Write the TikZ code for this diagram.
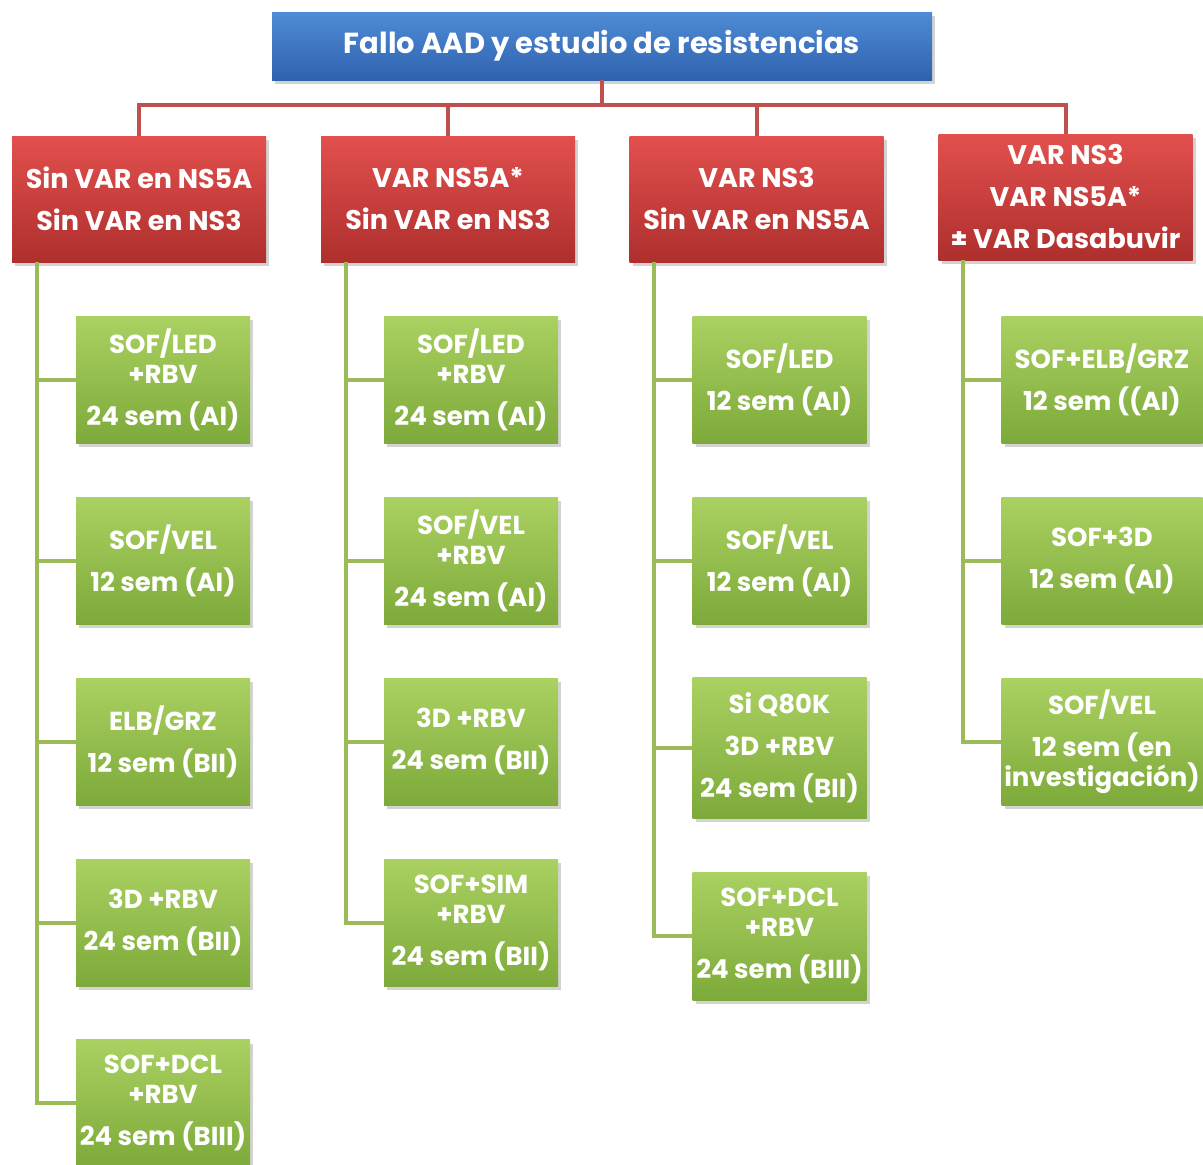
\documentclass[tikz,border=0pt]{standalone}
\usepackage{fontspec}
\setmainfont{Poppins}
\usetikzlibrary{shadows}

\definecolor{azulA}{HTML}{4F8BD6}
\definecolor{azulB}{HTML}{2F62AE}
\definecolor{rojoA}{HTML}{E2504E}
\definecolor{rojoB}{HTML}{AE2F2D}
\definecolor{verdeA}{HTML}{AAD162}
\definecolor{verdeB}{HTML}{7DAA3A}
\definecolor{linrojo}{HTML}{C0504D}
\definecolor{linverde}{HTML}{9BBB59}

\begin{document}
\begin{tikzpicture}[x=1pt, y=-1pt,
    caja/.style={text=white, align=center, inner sep=0pt,
        font=\fontsize{26}{42}\selectfont\bfseries,
        drop shadow={opacity=0.35, shadow xshift=3pt, shadow yshift=-4pt}},
    titulo/.style={caja, top color=azulA, bottom color=azulB,
        font=\fontsize{29}{42}\selectfont\bfseries,
        minimum width=660pt, minimum height=68pt},
    grupo/.style={caja, top color=rojoA, bottom color=rojoB,
        font=\fontsize{27}{42}\selectfont\bfseries,
        minimum width=254pt, minimum height=126pt},
    pauta/.style={caja, top color=verdeA, bottom color=verdeB,
        minimum width=174pt, minimum height=127pt},
    rama/.style={linrojo, line width=4pt},
    hoja/.style={linverde, line width=4pt}]
        \useasboundingbox (0,0) rectangle (1203,1165);

        % titulo
        \node[titulo] (top) at (602,46) {Fallo AAD y estudio de resistencias};

        % grupos
        \node[grupo] (r1) at (139,199) {Sin VAR en NS5A\\Sin VAR en NS3};
        \node[grupo] (r2) at (448,199) {VAR NS5A*\\Sin VAR en NS3};
        \node[grupo] (r3) at (756.5,199) {VAR NS3\\Sin VAR en NS5A};
        \node[grupo] (r4) at (1065.5,197) {VAR NS3\\VAR NS5A*\\± VAR Dasabuvir};

        % ramas rojas
        \coordinate (bar) at (602,105);
        \draw[rama] (top.south) -- (bar);
        \foreach \n in {r1,r2,r3,r4}
        \draw[rama] (bar) -| (\n.north);

        % pautas
        \node[pauta] (a1) at (163,379.5) {SOF/LED\\[-12pt]+RBV\\24 sem (AI)};
        \node[pauta] (a2) at (163,560.5) {SOF/VEL\\12 sem (AI)};
        \node[pauta] (a3) at (163,741.5) {ELB/GRZ\\12 sem (BII)};
        \node[pauta] (a4) at (163,922.5) {3D +RBV\\24 sem (BII)};
        \node[pauta] (a5) at (163,1103) {SOF+DCL\\[-12pt]+RBV\\24 sem (BIII)};

        \node[pauta] (b1) at (471,379.5) {SOF/LED\\[-12pt]+RBV\\24 sem (AI)};
        \node[pauta] (b2) at (471,560.5) {SOF/VEL\\[-12pt]+RBV\\24 sem (AI)};
        \node[pauta] (b3) at (471,741.5) {3D +RBV\\24 sem (BII)};
        \node[pauta] (b4) at (471,922.5) {SOF+SIM\\[-12pt]+RBV\\24 sem (BII)};

        \node[pauta] (c1) at (779.5,379.5) {SOF/LED\\12 sem (AI)};
        \node[pauta] (c2) at (779.5,560.5) {SOF/VEL\\12 sem (AI)};
        \node[pauta, minimum height=141pt] (c3) at (779.5,747.5) {Si Q80K\\3D +RBV\\24 sem (BII)};
        \node[pauta, minimum height=128pt] (c4) at (779.5,936) {SOF+DCL\\[-12pt]+RBV\\24 sem (BIII)};

        \node[pauta, minimum width=201pt] (d1) at (1102,379.5) {SOF+ELB/GRZ\\12 sem ((AI)};
        \node[pauta, minimum width=201pt] (d2) at (1102,560.5) {SOF+3D\\12 sem (AI)};
        \node[pauta, minimum width=201pt] (d3) at (1102,741.5) {SOF/VEL\\12 sem (en\\[-12pt]investigación)};

        % ramas verdes
        \foreach \n in {a1,a2,a3,a4,a5}
        \draw[hoja] ([xshift=25pt]r1.south west) |- (\n.west);
        \foreach \n in {b1,b2,b3,b4}
        \draw[hoja] ([xshift=25pt]r2.south west) |- (\n.west);
        \foreach \n in {c1,c2,c3,c4}
        \draw[hoja] ([xshift=25pt]r3.south west) |- (\n.west);
        \foreach \n in {d1,d2,d3}
        \draw[hoja] ([xshift=25pt]r4.south west) |- (\n.west);
    \end{tikzpicture}
\end{document}
